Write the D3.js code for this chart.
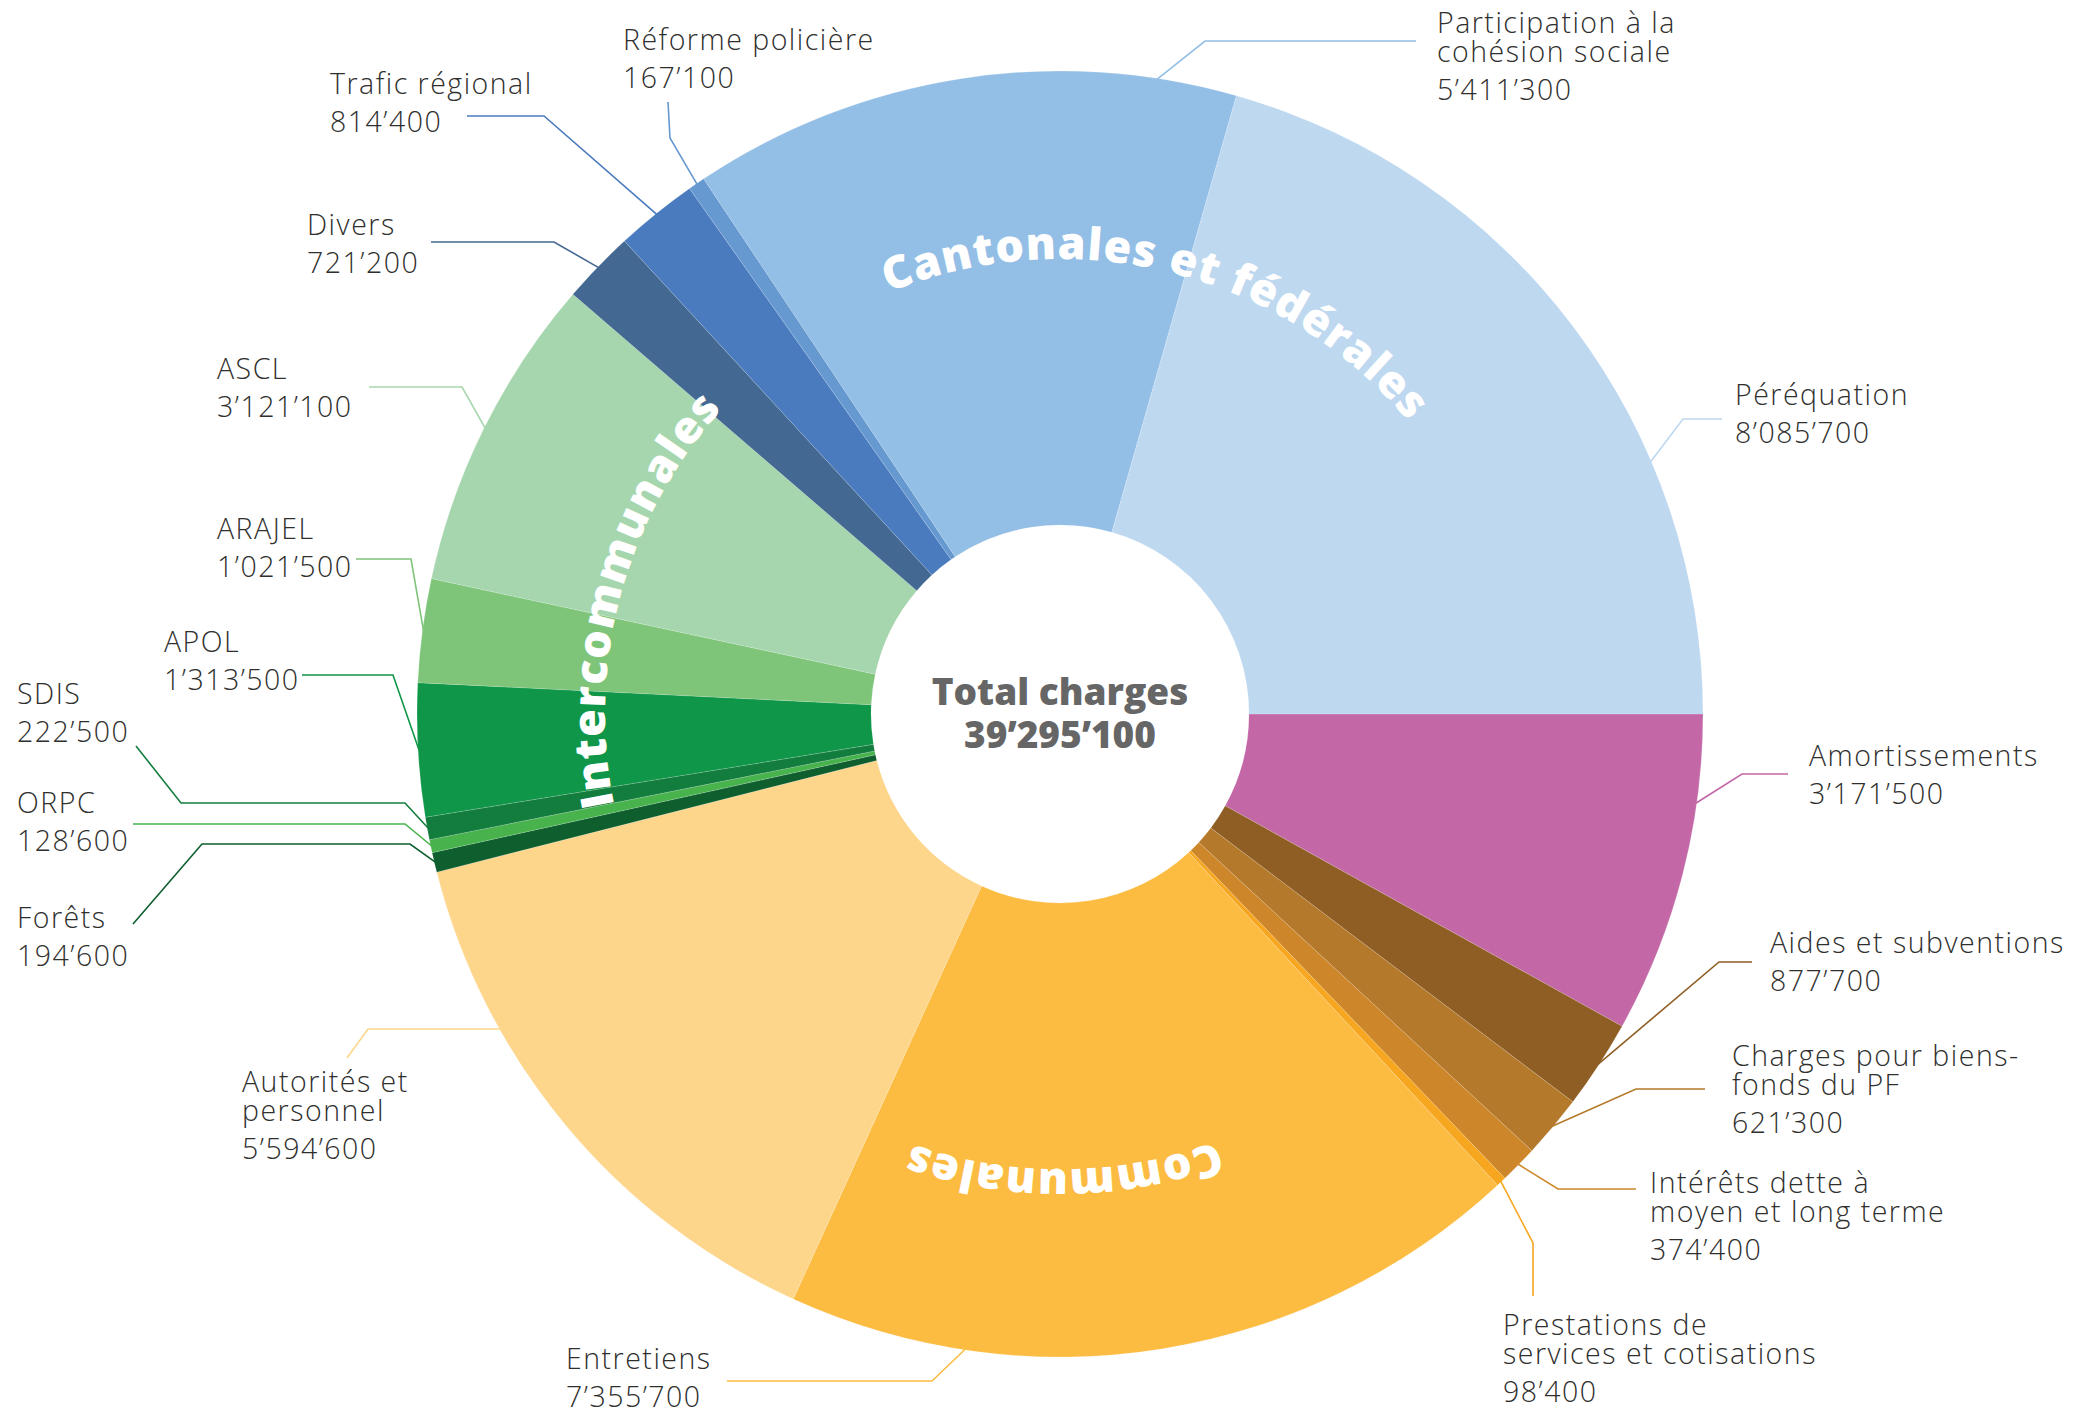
<!DOCTYPE html>
<html>
<head>
<meta charset="utf-8">
<script src="https://cdn.jsdelivr.net/npm/d3@7"></script>
<style>
  html, body { margin: 0; padding: 0; background: #ffffff; }
  svg { display: block; }
  .lbl { font-family: "Open Sans", sans-serif; font-weight: 300; font-size: 28.5px; fill: #2f2f2e; letter-spacing: 1.5px; }
  .grp { font-family: "Open Sans", sans-serif; font-weight: 800; font-size: 45px; fill: #ffffff; letter-spacing: 1px; }
  .tot { font-family: "Open Sans", sans-serif; font-weight: 800; font-size: 37px; fill: #666666; }
</style>
</head>
<body>
<svg id="chart" width="2078" height="1415"></svg>
<script>
// ---------------- DATA ----------------
const categories = [
  "Amortissements",
  "Aides et subventions",
  "Charges pour biens-\nfonds du PF",
  "Intérêts dette à\nmoyen et long terme",
  "Prestations de\nservices et cotisations",
  "Entretiens",
  "Autorités et\npersonnel",
  "Forêts",
  "ORPC",
  "SDIS",
  "APOL",
  "ARAJEL",
  "ASCL",
  "Divers",
  "Trafic régional",
  "Réforme policière",
  "Participation à la\ncohésion sociale",
  "Péréquation"
];
const values = [
  3171500, 877700, 621300, 374400, 98400,
  7355700, 5594600,
  194600, 128600, 222500, 1313500, 1021500, 3121100,
  721200, 814400, 167100, 5411300, 8085700
];
const colors = [
  "#c367a7", "#8f5e24", "#b4792b", "#cd872a", "#f6a61f",
  "#fcbc42", "#fdd68b",
  "#0e5e2e", "#48b34d", "#137d3e", "#109648", "#7ec57a", "#a6d6ad",
  "#436891", "#4a7bbe", "#6699d0", "#93bee5", "#bed8f0"
];
const groupLabels = ["Cantonales et fédérales", "Intercommunales", "Communales"];
const totalLabel = "Total charges";

// ---------------- LAYOUT ----------------
const W = 2078, H = 1415;
const cx = 1060, cy = 714;
const rOuter = 643, rInner = 189;
const groupAngles = [14, 285.3, 179.5];   // degrees, centre of each curved label
const groupRadius = 455;
// label placement: text x, first baseline, leader attach fraction along slice, leader bend points
const labelLayout = [
  { x: 1809, y: 766,  f: 0.275, pts: [[1742, 774], [1788, 774]] },
  { x: 1770, y: 953,  f: 0.5,   pts: [[1719, 962], [1752, 962]] },
  { x: 1732, y: 1066, f: 0.5,   pts: [[1636, 1089], [1705, 1089]] },
  { x: 1650, y: 1193, f: 0.5,   pts: [[1558, 1189], [1636, 1189]] },
  { x: 1503, y: 1335, f: 0.5,   pts: [[1533, 1243], [1533, 1296]] },
  { x: 566,  y: 1369, f: 0.762, pts: [[932, 1381], [727, 1381]] },
  { x: 242,  y: 1092, f: 0.704, pts: [[501, 1029], [368, 1029], [347, 1058]] },
  { x: 17,   y: 928,  f: 0.5,   pts: [[410, 844], [202, 844], [133, 924]] },
  { x: 17,   y: 813,  f: 0.5,   pts: [[405, 824], [133, 824]] },
  { x: 17,   y: 704,  f: 0.5,   pts: [[405, 803], [181, 803], [136, 746]] },
  { x: 164,  y: 652,  f: 0.5,   pts: [[393, 675], [302, 675]] },
  { x: 217,  y: 539,  f: 0.5,   pts: [[411, 559], [356, 559]] },
  { x: 217,  y: 379,  f: 0.5,   pts: [[462, 387], [369, 387]] },
  { x: 307,  y: 235,  f: 0.5,   pts: [[554, 242], [431, 242]] },
  { x: 330,  y: 94,   f: 0.5,   pts: [[544, 116], [467, 116]] },
  { x: 623,  y: 50,   f: 0.5,   pts: [[670, 138], [668, 102]] },
  { x: 1437, y: 33,   f: 0.854, pts: [[1205, 41], [1416, 41]] },
  { x: 1735, y: 405,  f: 0.688, pts: [[1683, 419], [1722, 419]] }
];
const lineGap = 29, valueGap = 37.5;

// ---------------- DRAW ----------------
const loc = d3.formatLocale({ decimal: ".", thousands: "\u2019", grouping: [3], currency: ["", ""] });
const fmt = loc.format(",");

const data = categories.map((c, i) => ({ name: c, value: values[i], color: colors[i], lay: labelLayout[i] }));
const total = d3.sum(values);

const svg = d3.select("#chart");
const g = svg.append("g").attr("transform", `translate(${cx},${cy})`);

const pie = d3.pie().sort(null).value(d => d.value)
  .startAngle(Math.PI / 2).endAngle(Math.PI / 2 + 2 * Math.PI);
const arcs = pie(data);
const arc = d3.arc().innerRadius(rInner).outerRadius(rOuter);

g.selectAll("path.slice").data(arcs).join("path")
  .attr("class", "slice")
  .attr("d", arc)
  .attr("fill", d => d.data.color)
  .attr("stroke", "rgba(255,255,255,0.25)")
  .attr("stroke-width", 0.6);

// leader lines
const polar = (a, r) => [cx + r * Math.sin(a), cy - r * Math.cos(a)];
const lineGen = d3.line();
svg.append("g").selectAll("path.leader").data(arcs).join("path")
  .attr("class", "leader")
  .attr("fill", "none")
  .attr("stroke", d => d.data.color)
  .attr("stroke-width", 1.6)
  .attr("d", d => {
    const a = d.startAngle + d.data.lay.f * (d.endAngle - d.startAngle);
    return lineGen([polar(a, rOuter - 1)].concat(d.data.lay.pts));
  });

// labels
const lg = svg.append("g");
arcs.forEach(d => {
  const lay = d.data.lay;
  const lines = d.data.name.split("\n");
  const t = lg.append("text").attr("class", "lbl").attr("x", lay.x).attr("y", lay.y);
  lines.forEach((ln, i) => {
    t.append("tspan").attr("x", lay.x).attr("y", lay.y + i * lineGap).text(ln);
  });
  t.append("tspan").attr("x", lay.x)
    .attr("y", lay.y + (lines.length - 1) * lineGap + valueGap)
    .text(fmt(d.data.value));
});

// curved group labels
const defs = svg.append("defs");
groupLabels.forEach((txt, i) => {
  const c = groupAngles[i] * Math.PI / 180;
  const a0 = c - Math.PI, r = groupRadius;
  const p0 = [r * Math.sin(a0), -r * Math.cos(a0)];
  const p1 = [r * Math.sin(a0 + Math.PI), -r * Math.cos(a0 + Math.PI)];
  defs.append("path").attr("id", "gp" + i)
    .attr("d", `M${p0[0]},${p0[1]} A${r},${r} 0 1 1 ${p1[0]},${p1[1]} A${r},${r} 0 1 1 ${p0[0]},${p0[1]}`);
  g.append("text").attr("class", "grp")
    .append("textPath").attr("href", "#gp" + i)
    .attr("startOffset", "50%").attr("text-anchor", "middle")
    .text(txt);
});

// centre
g.append("text").attr("class", "tot").attr("text-anchor", "middle").attr("y", -9).text(totalLabel);
g.append("text").attr("class", "tot").attr("text-anchor", "middle").attr("y", 34).text(fmt(total));
</script>
</body>
</html>
